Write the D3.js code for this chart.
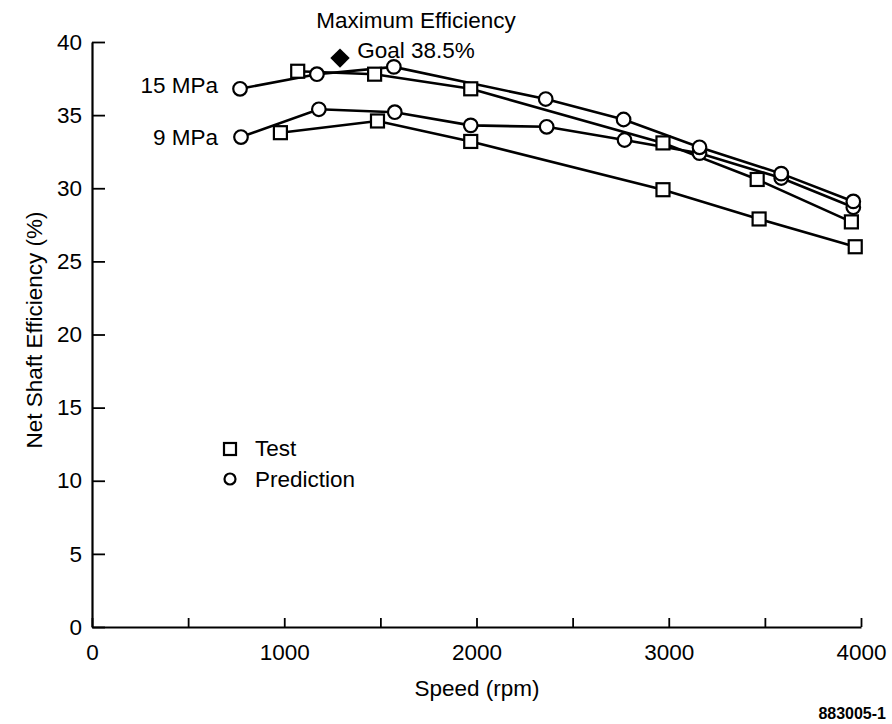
<!DOCTYPE html>
<html>
<head>
<meta charset="utf-8">
<script src="https://cdn.jsdelivr.net/npm/d3@7"></script>
<style>
  body { margin: 0; background: #fff; }
  text { font-family: "Liberation Sans", Arial, Helvetica, sans-serif; fill: #000; }
</style>
</head>
<body>
<div id="chart"></div>
<script>
// chart values
let xTicks = [0, 500, 1000, 1500, 2000, 2500, 3000, 3500, 4000];
let xTickLabels = ["0", "", "1000", "", "2000", "", "3000", "", "4000"];
let yTicks = [0, 5, 10, 15, 20, 25, 30, 35, 40];

// prediction (circles)
let pred15Speed = [770, 1170, 1570, 2360, 2765, 3160, 3585, 3960];
let pred15Eff = [36.8, 37.8, 38.3, 36.1, 34.7, 32.8, 31.0, 29.1];
let pred9Speed = [775, 1180, 1575, 1970, 2365, 2770, 3160, 3585, 3960];
let pred9Eff = [33.5, 35.4, 35.2, 34.3, 34.2, 33.3, 32.4, 30.7, 28.7];

// test (squares)
let test15Speed = [1070, 1470, 1970, 2970, 3460, 3950];
let test15Eff = [38.0, 37.8, 36.8, 33.1, 30.6, 27.7];
let test9Speed = [980, 1485, 1970, 2970, 3470, 3970];
let test9Eff = [33.8, 34.6, 33.2, 29.9, 27.9, 26.0];

// goal marker
let goalSpeed = [1290];
let goalEff = [38.9];

let svgWidth = 892;
let svgHeight = 724;

let margin = { top: 42, right: 31, bottom: 97, left: 92 };
let width = svgWidth - margin.left - margin.right;
let height = svgHeight - margin.top - margin.bottom;

let fontSize = "22.5px";

let svg = d3.select("#chart")
  .append("svg")
  .attr("width", svgWidth)
  .attr("height", svgHeight);

let chartGroup = svg.append("g")
  .attr("transform", `translate(${margin.left}, ${margin.top})`);

let xScale = d3.scaleLinear().domain([0, 4000]).range([0, width]);
let yScale = d3.scaleLinear().domain([0, 40]).range([height, 0]);

// axes, ticks point inward
let bottomAxis = d3.axisBottom(xScale)
  .tickValues(xTicks)
  .tickFormat((d, i) => xTickLabels[i])
  .tickSizeInner(-9)
  .tickSizeOuter(0)
  .tickPadding(17);

let leftAxis = d3.axisLeft(yScale)
  .tickValues(yTicks)
  .tickSizeInner(-13)
  .tickSizeOuter(0)
  .tickPadding(10);

let xAxis = chartGroup.append("g")
  .attr("transform", `translate(0, ${height})`)
  .call(bottomAxis);

let yAxis = chartGroup.append("g")
  .call(leftAxis);

[xAxis, yAxis].forEach(function(ax) {
  ax.select(".domain").attr("stroke", "#000").attr("stroke-width", 2.2);
  ax.selectAll(".tick line").attr("stroke", "#000").attr("stroke-width", 1.8);
  ax.selectAll(".tick text")
    .attr("font-size", fontSize)
    .attr("font-family", "Liberation Sans, Arial, sans-serif")
    .attr("fill", "#000");
});

// build series from the arrays
function pairs(xs, ys) {
  return xs.map((x, i) => ({ speed: x, eff: ys[i] }));
}

let series = [
  { data: pairs(test9Speed, test9Eff), marker: "square" },
  { data: pairs(test15Speed, test15Eff), marker: "square" },
  { data: pairs(pred9Speed, pred9Eff), marker: "circle" },
  { data: pairs(pred15Speed, pred15Eff), marker: "circle" }
];

let line = d3.line()
  .x(d => xScale(d.speed))
  .y(d => yScale(d.eff));

// lines first so markers sit on top
series.forEach(function(s) {
  chartGroup.append("path")
    .datum(s.data)
    .attr("d", line)
    .attr("fill", "none")
    .attr("stroke", "#000")
    .attr("stroke-width", 2.6);
});

let sq = 13;
series.forEach(function(s) {
  if (s.marker === "square") {
    chartGroup.selectAll(null)
      .data(s.data)
      .enter()
      .append("rect")
      .attr("x", d => xScale(d.speed) - sq / 2)
      .attr("y", d => yScale(d.eff) - sq / 2)
      .attr("width", sq)
      .attr("height", sq)
      .attr("fill", "#fff")
      .attr("stroke", "#000")
      .attr("stroke-width", 2.2);
  } else {
    chartGroup.selectAll(null)
      .data(s.data)
      .enter()
      .append("circle")
      .attr("cx", d => xScale(d.speed))
      .attr("cy", d => yScale(d.eff))
      .attr("r", 6.8)
      .attr("fill", "#fff")
      .attr("stroke", "#000")
      .attr("stroke-width", 2.2);
  }
});

// goal diamond
chartGroup.selectAll(null)
  .data(pairs(goalSpeed, goalEff))
  .enter()
  .append("path")
  .attr("transform", d => `translate(${xScale(d.speed)}, ${yScale(d.eff)})`)
  .attr("d", d3.symbol().type(d3.symbolDiamond2).size(240))
  .attr("fill", "#000");

// annotations
svg.append("text")
  .attr("x", 416).attr("y", 28)
  .attr("text-anchor", "middle")
  .attr("font-size", fontSize)
  .text("Maximum Efficiency");

svg.append("text")
  .attr("x", 416).attr("y", 58)
  .attr("text-anchor", "middle")
  .attr("font-size", fontSize)
  .text("Goal 38.5%");

svg.append("text")
  .attr("x", 218).attr("y", 93)
  .attr("text-anchor", "end")
  .attr("font-size", fontSize)
  .text("15 MPa");

svg.append("text")
  .attr("x", 218).attr("y", 145)
  .attr("text-anchor", "end")
  .attr("font-size", fontSize)
  .text("9 MPa");

// legend
svg.append("rect")
  .attr("x", 224).attr("y", 443)
  .attr("width", 12).attr("height", 12)
  .attr("fill", "#fff").attr("stroke", "#000").attr("stroke-width", 2.2);

svg.append("text")
  .attr("x", 255).attr("y", 456)
  .attr("font-size", fontSize)
  .text("Test");

svg.append("circle")
  .attr("cx", 230).attr("cy", 479).attr("r", 5.5)
  .attr("fill", "#fff").attr("stroke", "#000").attr("stroke-width", 2.2);

svg.append("text")
  .attr("x", 255).attr("y", 487)
  .attr("font-size", fontSize)
  .text("Prediction");

// axis titles
svg.append("text")
  .attr("x", 477).attr("y", 696)
  .attr("text-anchor", "middle")
  .attr("font-size", fontSize)
  .text("Speed (rpm)");

svg.append("text")
  .attr("transform", "rotate(-90)")
  .attr("x", -330).attr("y", 42)
  .attr("text-anchor", "middle")
  .attr("font-size", fontSize)
  .text("Net Shaft Efficiency (%)");

svg.append("text")
  .attr("x", 886).attr("y", 719)
  .attr("text-anchor", "end")
  .attr("font-size", "16px")
  .attr("font-weight", "bold")
  .text("883005-1");
</script>
</body>
</html>
